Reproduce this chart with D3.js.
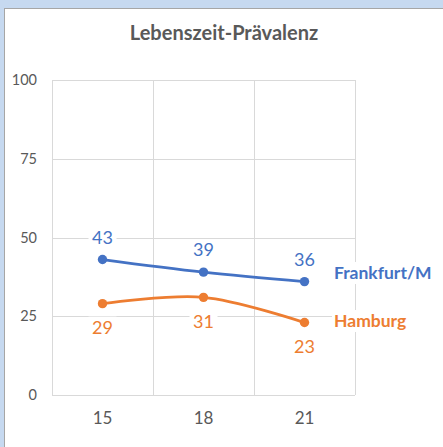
<!DOCTYPE html>
<html>
<head>
  <meta charset="utf-8">
  <script src="https://d3js.org/d3.v7.min.js"></script>
  <style>
    body { margin: 0; background: #ffffff; }
    svg { display: block; }
  </style>
</head>
<body>
  <svg width="443" height="447"></svg>
  <script>
    // data
    var ages = ["15", "18", "21"];
    var frankfurt = [43, 39, 36];
    var hamburg = [29, 31, 23];
    var yTicks = [0, 25, 50, 75, 100];
    var seriesNames = ["Frankfurt/M", "Hamburg"];

    var svg = d3.select("svg");
    var font = "Lato, 'Open Sans', sans-serif";

    // window frame bits (light blue strips)
    svg.append("rect").attr("x", 0).attr("y", 0).attr("width", 443).attr("height", 8).attr("fill", "#c6d9f0");
    svg.append("rect").attr("x", 0).attr("y", 0).attr("width", 4).attr("height", 447).attr("fill", "#c6d9f0");
    svg.append("line").attr("x1", 4).attr("x2", 443).attr("y1", 8.5).attr("y2", 8.5).attr("stroke", "#a6a6a6");
    svg.append("line").attr("x1", 4.5).attr("x2", 4.5).attr("y1", 8).attr("y2", 447).attr("stroke", "#a6a6a6");

    var x = d3.scaleBand().domain(ages).range([52, 355]);
    var y = d3.scaleLinear().domain([0, 100]).range([395, 80]);

    // title
    svg.append("text")
      .attr("x", 224).attr("y", 40)
      .attr("text-anchor", "middle")
      .attr("font-family", font)
      .attr("font-weight", "bold")
      .attr("font-size", "20px")
      .attr("fill", "#595959")
      .text("Lebenszeit-Prävalenz");

    // gridlines
    var grid = svg.append("g");
    grid.selectAll("line.h")
      .data(yTicks)
      .enter().append("line")
      .attr("x1", 52).attr("x2", 355)
      .attr("y1", function(d) { return Math.round(y(d)) + 0.5; })
      .attr("y2", function(d) { return Math.round(y(d)) + 0.5; })
      .attr("stroke", "#d9d9d9").attr("stroke-width", 1);

    var vlines = ages.map(function(a) { return x(a); }).concat([x.range()[1]]);
    grid.selectAll("line.v")
      .data(vlines)
      .enter().append("line")
      .attr("x1", function(d) { return Math.round(d) + 0.5; })
      .attr("x2", function(d) { return Math.round(d) + 0.5; })
      .attr("y1", 80).attr("y2", 395)
      .attr("stroke", "#d9d9d9").attr("stroke-width", 1);

    // y tick labels
    svg.append("g").selectAll("text")
      .data(yTicks)
      .enter().append("text")
      .attr("x", 37)
      .attr("y", function(d) { return y(d); })
      .attr("dy", "0.35em")
      .attr("text-anchor", "end")
      .attr("font-family", font)
      .attr("font-size", "14.5px")
      .attr("fill", "#595959")
      .text(function(d) { return d; });

    // x tick labels
    svg.append("g").selectAll("text")
      .data(ages)
      .enter().append("text")
      .attr("x", function(d) { return x(d) + x.bandwidth() / 2; })
      .attr("y", 424)
      .attr("text-anchor", "middle")
      .attr("font-family", font)
      .attr("font-size", "17px")
      .attr("fill", "#595959")
      .text(function(d) { return d; });

    var series = [
      { name: seriesNames[0], values: frankfurt, color: "#4472c4", labelDy: -22, legendY: 273 },
      { name: seriesNames[1], values: hamburg, color: "#ed7d31", labelDy: 24, legendY: 321 }
    ];

    var line = d3.line()
      .x(function(d, i) { return x(ages[i]) + x.bandwidth() / 2; })
      .y(function(d) { return y(d); })
      .curve(d3.curveCatmullRom.alpha(0.5));

    series.forEach(function(s) {
      var g = svg.append("g");
      g.append("path")
        .datum(s.values)
        .attr("d", line)
        .attr("fill", "none")
        .attr("stroke", s.color)
        .attr("stroke-width", 2.8)
        .attr("stroke-linecap", "round");

      g.selectAll("circle")
        .data(s.values)
        .enter().append("circle")
        .attr("cx", function(d, i) { return x(ages[i]) + x.bandwidth() / 2; })
        .attr("cy", function(d) { return y(d); })
        .attr("r", 4.7)
        .attr("fill", s.color);

      // data labels with white background
      var lbl = g.selectAll("g.lbl")
        .data(s.values)
        .enter().append("g")
        .attr("transform", function(d, i) {
          return "translate(" + (x(ages[i]) + x.bandwidth() / 2) + "," + (y(d) + s.labelDy) + ")";
        });
      lbl.append("rect")
        .attr("x", -14).attr("y", -11).attr("width", 28).attr("height", 22)
        .attr("fill", "#ffffff");
      lbl.append("text")
        .attr("text-anchor", "middle")
        .attr("dy", "0.35em")
        .attr("font-family", font)
        .attr("font-size", "18px")
        .attr("fill", s.color)
        .text(function(d) { return d; });

      // series name at the end of the line
      var leg = svg.append("g").attr("transform", "translate(334," + s.legendY + ")");
      leg.append("rect")
        .attr("x", -2).attr("y", -11).attr("width", 105).attr("height", 22)
        .attr("fill", "#ffffff");
      leg.append("text")
        .attr("dy", "0.35em")
        .attr("font-family", font)
        .attr("font-weight", "bold")
        .attr("font-size", "17.5px")
        .attr("fill", s.color)
        .text(s.name);
    });
  </script>
</body>
</html>
